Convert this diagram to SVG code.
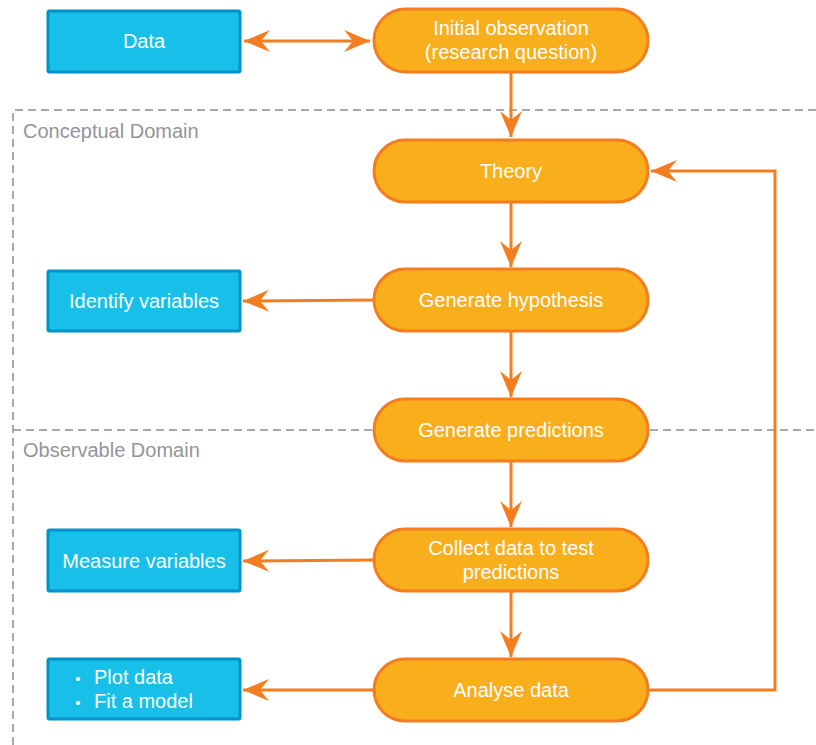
<svg xmlns="http://www.w3.org/2000/svg" width="816" height="745" viewBox="0 0 816 745">
<defs>
<style>
.pill{fill:#F9AE1C;stroke:#F47D20;stroke-width:3}
.box{fill:#17BFE9;stroke:#0094C8;stroke-width:3}
.t{font-family:"Liberation Sans",Arial,sans-serif;font-size:20px;fill:#FFFFFF;text-anchor:middle}
.dom{font-family:"Liberation Sans",Arial,sans-serif;font-size:20px;fill:#939598}
.dash{fill:none;stroke:#A7A9AC;stroke-width:2;stroke-dasharray:8 5}
.c{fill:none;stroke:#F47D20;stroke-width:3}
</style>
<marker id="ah" markerUnits="userSpaceOnUse" viewBox="-28 -12 30 24" refX="0" refY="0" markerWidth="30" markerHeight="24" orient="auto-start-reverse">
<path d="M0,0 L-26,-11 L-17,0 L-26,11 Z" fill="#F47D20"/>
</marker>
</defs>
<g id="domains">
<path class="dash" d="M816,110 H13 V745"/>
<path class="dash" d="M13,430 H816"/>
<text class="dom" x="23" y="138">Conceptual Domain</text>
<text class="dom" x="23" y="457">Observable Domain</text>
</g>
<g id="connectors">
<path class="c" d="M244,41 H370" marker-start="url(#ah)" marker-end="url(#ah)"/>
<path class="c" d="M511,72 V137" marker-end="url(#ah)"/>
<path class="c" d="M648,690 H775 V171 H651" marker-end="url(#ah)"/>
<path class="c" d="M511,202 V267" marker-end="url(#ah)"/>
<path class="c" d="M374,300 L243,301" marker-end="url(#ah)"/>
<path class="c" d="M511,331 V397" marker-end="url(#ah)"/>
<path class="c" d="M511,461 V527" marker-end="url(#ah)"/>
<path class="c" d="M374,560 L243,561" marker-end="url(#ah)"/>
<path class="c" d="M511,591 V657" marker-end="url(#ah)"/>
<path class="c" d="M374,690 H243" marker-end="url(#ah)"/>
</g>
<g id="data">
<rect class="box" x="48" y="11" width="192" height="61" rx="1.5"/>
<text class="t" x="144" y="48">Data</text>
</g>
<g id="initial">
<rect class="pill" x="374" y="9" width="274" height="63" rx="31.5"/>
<text class="t" x="511" y="35">Initial observation</text>
<text class="t" x="511" y="59">(research question)</text>
</g>
<g id="theory">
<rect class="pill" x="374" y="140" width="274" height="62" rx="31"/>
<text class="t" x="511" y="178">Theory</text>
</g>
<g id="hypothesis">
<rect class="pill" x="374" y="269" width="274" height="62" rx="31"/>
<text class="t" x="511" y="307">Generate hypothesis</text>
</g>
<g id="identify">
<rect class="box" x="48" y="271" width="192" height="60" rx="1.5"/>
<text class="t" x="144" y="308">Identify variables</text>
</g>
<g id="predictions">
<rect class="pill" x="374" y="399" width="274" height="62" rx="31"/>
<text class="t" x="511" y="437">Generate predictions</text>
</g>
<g id="collect">
<rect class="pill" x="374" y="529" width="274" height="62" rx="31"/>
<text class="t" x="511" y="555">Collect data to test</text>
<text class="t" x="511" y="579">predictions</text>
</g>
<g id="measure">
<rect class="box" x="48" y="530" width="192" height="61" rx="1.5"/>
<text class="t" x="144" y="568">Measure variables</text>
</g>
<g id="analyse">
<rect class="pill" x="374" y="659" width="274" height="62" rx="31"/>
<text class="t" x="511" y="697">Analyse data</text>
</g>
<g id="plot">
<rect class="box" x="48" y="659" width="192" height="60" rx="1.5"/>
<text class="t" x="78" y="684" style="font-size:15px">•</text>
<text class="t" x="94" y="684" style="text-anchor:start">Plot data</text>
<text class="t" x="78" y="708" style="font-size:15px">•</text>
<text class="t" x="94" y="708" style="text-anchor:start">Fit a model</text>
</g>
</svg>
